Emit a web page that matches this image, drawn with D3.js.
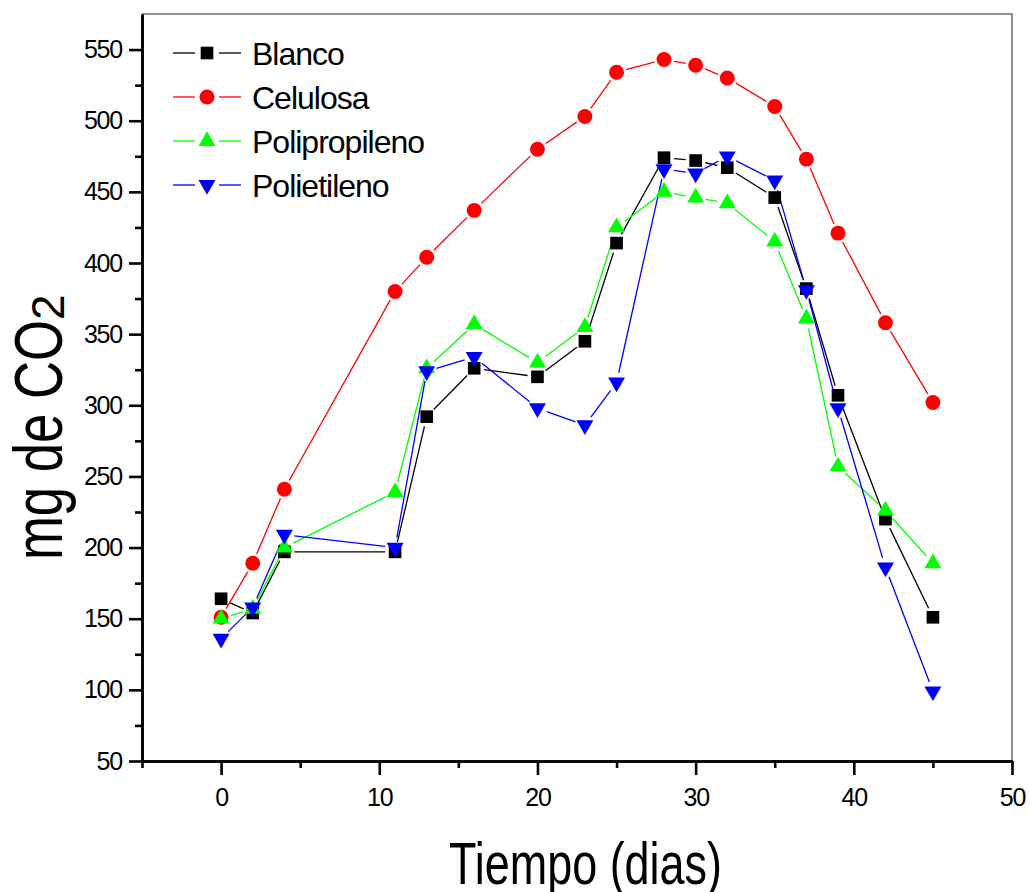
<!DOCTYPE html>
<html>
<head>
<meta charset="utf-8">
<script src="https://cdn.jsdelivr.net/npm/d3@7"></script>
<style>
  body { margin: 0; background: #fff; }
  svg { display: block; font-family: "Liberation Sans", Arial, sans-serif; }
</style>
</head>
<body>
<script>
// data
var dias = [0, 2, 4, 11, 13, 16, 20, 23, 25, 28, 30, 32, 35, 37, 39, 42, 45];
var blanco = [164, 154, 197, 197, 292, 326, 320, 345, 414, 474, 472, 467, 446, 382, 307, 220, 151];
var celulosa = [151, 189, 241, 380, 404, 437, 480, 503, 534, 543, 539, 530, 510, 473, 421, 358, 302];
var polipropileno = [150, 157, 200, 239, 326, 357, 330, 355, 425, 450, 446, 442, 415, 361, 257, 226, 189];
var polietileno = [136, 158, 209, 200, 324, 334, 298, 286, 316, 466, 463, 475, 458, 381, 298, 186, 99];

var seriesNames = ['Blanco', 'Celulosa', 'Polipropileno', 'Polietileno'];
var seriesVals = [blanco, celulosa, polipropileno, polietileno];
var seriesColors = ['#000000', '#ff0000', '#00ff00', '#0000ff'];
var seriesMarks = ['square', 'circle', 'up', 'down'];

var xMajor = [0, 10, 20, 30, 40, 50];
var xMinor = [-5, 5, 15, 25, 35, 45];
var yMajor = [50, 100, 150, 200, 250, 300, 350, 400, 450, 500, 550];
var yMinor = [75, 125, 175, 225, 275, 325, 375, 425, 475, 525];

var width = 1030, height = 892;
var plotL = 142, plotR = 1012, plotT = 14, plotB = 761;

var svg = d3.select('body').append('svg')
  .attr('width', width).attr('height', height);

var x = d3.scaleLinear().domain([-5, 50]).range([plotL, plotR]);
var y = d3.scaleLinear().domain([50, 575]).range([plotB, plotT]);

// frame top / right
svg.append('path')
  .attr('d', 'M' + plotL + ',' + plotT + 'H' + plotR + 'V' + plotB)
  .attr('fill', 'none').attr('stroke', '#6e6e6e').attr('stroke-width', 1.5);

function markerPath(kind) {
  if (kind == 'square') return d3.symbol(d3.symbolSquare, 160)();
  if (kind == 'circle') return d3.symbol(d3.symbolCircle, 175)();
  return d3.symbol(d3.symbolTriangle, 125)();
}

// series lines, broken before each marker
var gap = 10;
seriesVals.forEach(function(vals, s) {
  var g = svg.append('g');
  for (var i = 0; i < dias.length - 1; i++) {
    var x1 = x(dias[i]), y1 = y(vals[i]), x2 = x(dias[i + 1]), y2 = y(vals[i + 1]);
    var dx = x2 - x1, dy = y2 - y1, len = Math.sqrt(dx * dx + dy * dy);
    if (len <= 2 * gap + 1) continue;
    var ux = dx / len, uy = dy / len;
    g.append('line')
      .attr('x1', x1 + ux * gap).attr('y1', y1 + uy * gap)
      .attr('x2', x2 - ux * gap).attr('y2', y2 - uy * gap)
      .attr('stroke', seriesColors[s]).attr('stroke-width', 1.3);
  }
});

// markers
seriesVals.forEach(function(vals, s) {
  svg.append('g').selectAll('path')
    .data(vals)
    .enter()
    .append('path')
    .attr('d', markerPath(seriesMarks[s]))
    .attr('transform', function(d, i) {
      var t = 'translate(' + x(dias[i]) + ',' + y(d) + ')';
      if (seriesMarks[s] == 'down') t += ' rotate(180)';
      return t;
    })
    .attr('fill', seriesColors[s]);
});

// axes
var xAxis = svg.append('g').attr('transform', 'translate(0,' + plotB + ')');
xAxis.call(d3.axisBottom(x).tickValues(xMajor).tickSize(14).tickPadding(13).tickSizeOuter(0));
xAxis.append('g').call(d3.axisBottom(x).tickValues(xMinor).tickSize(7).tickFormat('').tickSizeOuter(0));

var yAxis = svg.append('g').attr('transform', 'translate(' + plotL + ',0)');
yAxis.call(d3.axisLeft(y).tickValues(yMajor).tickSize(13).tickPadding(7).tickSizeOuter(0));
yAxis.append('g').call(d3.axisLeft(y).tickValues(yMinor).tickSize(7).tickFormat('').tickSizeOuter(0));

svg.selectAll('.domain').attr('stroke', '#000').attr('stroke-width', 2.6);
svg.selectAll('.tick line').attr('stroke', '#000').attr('stroke-width', 2.6);
svg.selectAll('.tick text')
  .attr('fill', '#000')
  .style('font-family', '"Liberation Sans", Arial, sans-serif')
  .style('font-size', '25px')
  .style('letter-spacing', '-1.2px');

// legend
var leg = svg.append('g');
seriesNames.forEach(function(name, s) {
  var cy = 53 + s * 44;
  leg.append('line').attr('x1', 173).attr('x2', 195).attr('y1', cy).attr('y2', cy)
    .attr('stroke', seriesColors[s]).attr('stroke-width', 1.3);
  leg.append('line').attr('x1', 219).attr('x2', 241).attr('y1', cy).attr('y2', cy)
    .attr('stroke', seriesColors[s]).attr('stroke-width', 1.3);
  leg.append('path')
    .attr('d', markerPath(seriesMarks[s]))
    .attr('transform', 'translate(207,' + cy + ')' + (seriesMarks[s] == 'down' ? ' rotate(180)' : ''))
    .attr('fill', seriesColors[s]);
  leg.append('text')
    .attr('x', 252).attr('y', cy + 12)
    .style('font-size', '32px')
    .style('letter-spacing', '-1px')
    .text(name);
});

// axis titles
svg.append('text')
  .attr('x', 449).attr('y', 884)
  .attr('textLength', 273).attr('lengthAdjust', 'spacingAndGlyphs')
  .style('font-size', '60px')
  .text('Tiempo (dias)');

var yt = svg.append('text')
  .attr('transform', 'translate(62,560) rotate(-90)')
  .style('font-size', '68px');
yt.append('tspan').attr('textLength', 240).attr('lengthAdjust', 'spacingAndGlyphs').text('mg de CO');
yt.append('tspan').attr('dy', 2).style('font-size', '46px').text('2');
</script>
</body>
</html>
